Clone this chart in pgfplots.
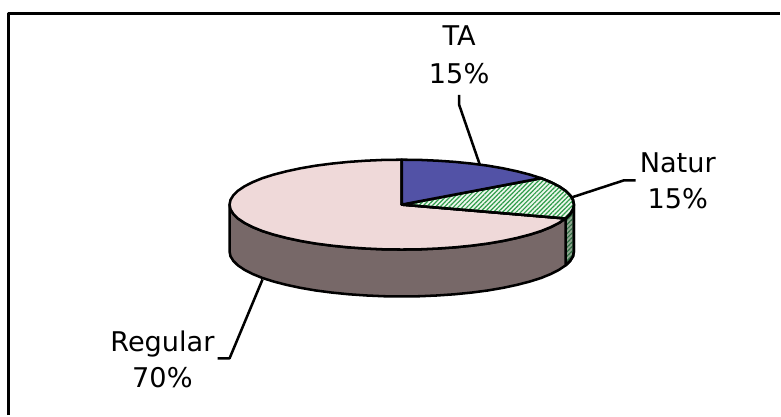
\documentclass[border=0pt]{standalone}
\usepackage{fontspec}
\setmainfont{DejaVu Sans}
\usepackage{pgfplots}
\pgfplotsset{compat=1.18}
\usetikzlibrary{patterns.meta}
\definecolor{ablue}{HTML}{5252A6}
\definecolor{apink}{HTML}{EFD9D9}
\definecolor{agray}{HTML}{776868}
\definecolor{agreen}{HTML}{2F9C4A}
\definecolor{agreenbg}{HTML}{EEF8EE}
\definecolor{adark}{HTML}{2F6A42}
\definecolor{adarkbg}{HTML}{8FA890}
\tikzset{lbl/.style={anchor=base,font=\fontsize{20.4pt}{22pt}\selectfont,inner sep=0pt,text=black}}
\begin{document}
\begin{tikzpicture}
\begin{axis}[
  x=0.75pt,y=0.75pt,
  xmin=0,xmax=781,ymin=0,ymax=416,
  y dir=reverse,
  hide axis,
  clip=false,
  scale only axis,
  line join=round,
  every axis plot/.append style={no markers,line width=1.9pt,black,solid},
]
\path (axis cs:0,0) rectangle (axis cs:781,416);
% frame
\addplot[black,solid,line width=2.2pt,line cap=butt] coordinates {(8.7,416) (8.7,13.5) (781,13.5)};
% side: Natur
\addplot[black,solid,fill=adarkbg,postaction={pattern={Lines[angle=45,distance=2.4pt,line width=0.9pt]},pattern color=adark}] coordinates {
(566.6,218.9)(571.2,214.4)(574.1,209.7)(575,205)(575,252)(574.1,256.7)(571.2,261.4)(566.6,265.9)} -- cycle;
% side: Regular
\addplot[black,solid,fill=agray] coordinates {
(566.6,218.9)(560.1,223.3)(551.9,227.5)(542.1,231.5)(530.7,235.1)(517.9,238.4)(503.9,241.4)(488.8,244)(472.7,246.1)(455.8,247.8)(438.4,249)(420.5,249.8)(402.5,250)(384.5,249.8)(366.6,249)(349.2,247.8)(332.3,246.1)(316.2,244)(301.1,241.4)(287.1,238.4)(274.3,235.1)(262.9,231.5)(253.1,227.5)(244.9,223.3)(238.4,218.9)(233.8,214.4)(230.9,209.7)(230,205)
(230,252)(230.9,256.7)(233.8,261.4)(238.4,265.9)(244.9,270.3)(253.1,274.5)(262.9,278.5)(274.3,282.1)(287.1,285.4)(301.1,288.4)(316.2,291)(332.3,293.1)(349.2,294.8)(366.6,296)(384.5,296.8)(402.5,297)(420.5,296.8)(438.4,296)(455.8,294.8)(472.7,293.1)(488.8,291)(503.9,288.4)(517.9,285.4)(530.7,282.1)(542.1,278.5)(551.9,274.5)(560.1,270.3)(566.6,265.9)} -- cycle;
% top: Regular
\addplot[black,solid,fill=apink] coordinates {
(402.5,205)(566.6,218.9)(560.1,223.3)(551.9,227.5)(542.1,231.5)(530.7,235.1)(517.9,238.4)(503.9,241.4)(488.8,244)(472.7,246.1)(455.8,247.8)(438.4,249)(420.5,249.8)(402.5,250)(384.5,249.8)(366.6,249)(349.2,247.8)(332.3,246.1)(316.2,244)(301.1,241.4)(287.1,238.4)(274.3,235.1)(262.9,231.5)(253.1,227.5)(244.9,223.3)(238.4,218.9)(233.8,214.4)(230.9,209.7)(230,205)(230.9,200.3)(233.8,195.6)(238.4,191.1)(244.9,186.7)(253.1,182.5)(262.9,178.5)(274.3,174.9)(287.1,171.6)(301.1,168.6)(316.2,166)(332.3,163.9)(349.2,162.2)(366.6,161)(384.5,160.2)(402.5,160)} -- cycle;
% top: Natur
\addplot[black,solid,fill=agreenbg,postaction={pattern={Lines[angle=45,distance=2.4pt,line width=0.9pt]},pattern color=agreen}] coordinates {
(402.5,205)(542.1,178.5)(551.9,182.5)(560.1,186.7)(566.6,191.1)(571.2,195.6)(574.1,200.3)(575,205)(574.1,209.7)(571.2,214.4)(566.6,218.9)} -- cycle;
% top: TA
\addplot[black,solid,fill=ablue] coordinates {
(402.5,205)(402.5,160)(420.5,160.2)(438.4,161)(455.8,162.2)(472.7,163.9)(488.8,166)(503.9,168.6)(517.9,171.6)(530.7,174.9)(542.1,178.5)} -- cycle;
% leaders
\addplot[black,solid] coordinates {(460,95)(460,105)(480.7,165)};
\addplot[black,solid] coordinates {(636.7,180.7)(625,180.7)(573,197.7)};
\addplot[black,solid] coordinates {(218,359)(230,359)(263,280)};
% labels
\node[lbl] at (axis cs:460,46) {TA};
\node[lbl] at (axis cs:460,84) {15\%};
\node[lbl] at (axis cs:679,173) {Natur};
\node[lbl] at (axis cs:679,209) {15\%};
\node[lbl] at (axis cs:162.7,352) {Regular};
\node[lbl] at (axis cs:162.7,388) {70\%};
\end{axis}
\end{tikzpicture}
\end{document}
